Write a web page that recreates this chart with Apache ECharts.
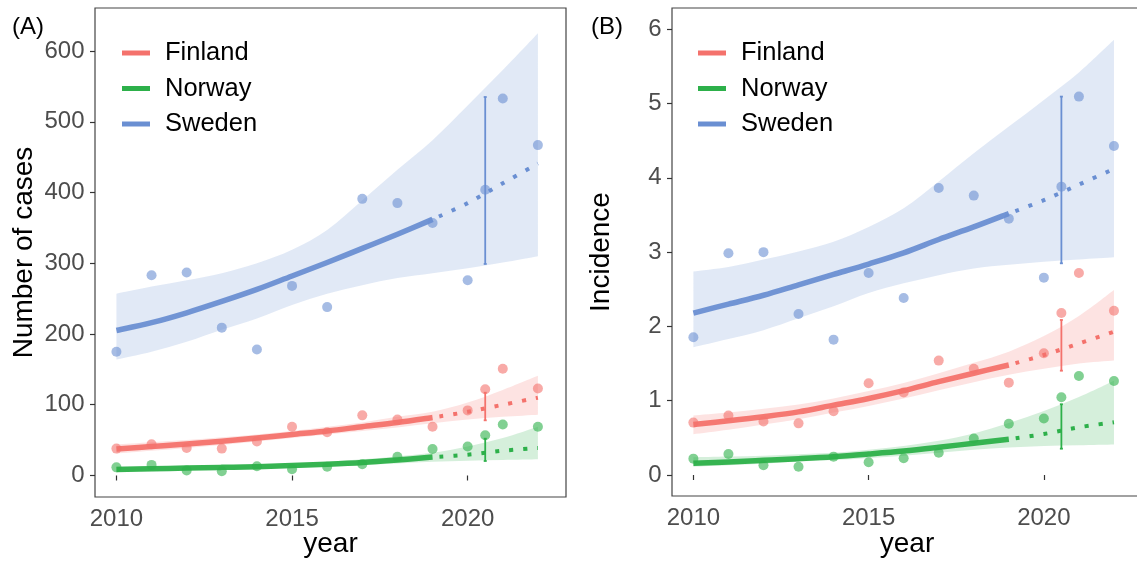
<!DOCTYPE html>
<html>
<head>
<meta charset="utf-8">
<script src="https://cdn.jsdelivr.net/npm/echarts@6/dist/echarts.min.js"></script>
<style>
html,body{margin:0;padding:0;background:#fff;overflow:hidden;}
#chart{width:1150px;height:562px;}
</style>
</head>
<body>
<div id="chart"></div>
<script>
// ---------- data ----------
const years = [2010,2011,2012,2013,2014,2015,2016,2017,2018,2019,2020,2021,2022];
const fitYears = [2010,2011,2012,2013,2014,2015,2016,2017,2018,2019];
const projYears = [2019,2020,2021,2022];
const midYear = 2020.5;
const countries = ['Finland','Norway','Sweden'];
const xTicks = [2010,2015,2020];
const yTicksA = [0,100,200,300,400,500,600];
const yTicksB = [0,1,2,3,4,5,6];

// Panel A: number of cases
const casesFinland = [38,44,39,38,48,69,61,85,79,69,92,151,123];
const casesNorway  = [11.5,15,7,6,13,9,12.5,16,26.6,37.5,41,72,69];
const casesSweden  = [175,283,287,209,178,268,238,391,385,357,276,533,467];
const casesMid = {Finland:122, Norway:57, Sweden:404};
const casesErr = {Finland:[78,117], Norway:[20.5,52], Sweden:[299,535]};
const casesFitFinland = [37.5,41,44.5,48.5,53,58,63,69,75,82];
const casesFitNorway  = [8.5,9.5,10.5,11.5,12.5,14,16,18.5,22,26];
const casesFitSweden  = [205,216,230,246,263,282,301,321,341,362];
const casesProjFinland = [82,90,100,110];
const casesProjNorway  = [26,29.4,35,39];
const casesProjSweden  = [362,385,413,441];
const casesLoFinland = [31,35,39,43,48,53,58,63,68,74,79,83,86];
const casesHiFinland = [44,47,50,54,58,63,69,75,83,90,103,121,141];
const casesLoNorway  = [5,6,7.5,9,10,11.5,13,15,17,19.5,21,22,23];
const casesHiNorway  = [12.5,13,13.5,14.5,15.5,17,19.5,23,27,32,41,53,69];
const casesLoSweden  = [164,175,189,206,222,241,257,269,279,286,293,301,310];
const casesHiSweden  = [257,267,276,286,300,319,347,389,432,474,523,573,625];

// Panel B: incidence
const incFinland = [0.705,0.80,0.72,0.695,0.857,1.234,1.11,1.54,1.43,1.243,1.64,2.72,2.21];
const incNorway  = [0.22,0.283,0.13,0.112,0.247,0.171,0.225,0.30,0.49,0.69,0.76,1.333,1.266];
const incSweden  = [1.854,2.985,3.0,2.168,1.822,2.72,2.383,3.864,3.761,3.451,2.657,5.094,4.43];
const incMid = {Finland:2.18, Norway:1.046, Sweden:3.882};
const incErr = {Finland:[1.404,2.087], Norway:[0.354,0.952], Sweden:[2.85,5.094]};
const incFitFinland = [0.68,0.73,0.785,0.85,0.94,1.03,1.135,1.256,1.37,1.48];
const incFitNorway  = [0.157,0.175,0.197,0.22,0.247,0.283,0.323,0.373,0.427,0.48];
const incFitSweden  = [2.18,2.30,2.42,2.56,2.70,2.84,2.99,3.17,3.34,3.52];
const incProjFinland = [1.48,1.615,1.77,1.93];
const incProjNorway  = [0.48,0.552,0.642,0.71];
const incProjSweden  = [3.52,3.70,3.91,4.12];
const incLoFinland = [0.55,0.61,0.68,0.75,0.84,0.93,1.03,1.14,1.25,1.35,1.43,1.50,1.54];
const incHiFinland = [0.80,0.84,0.89,0.95,1.03,1.13,1.24,1.37,1.51,1.66,1.87,2.14,2.49];
const incLoNorway  = [0.11,0.13,0.15,0.18,0.20,0.23,0.26,0.30,0.34,0.37,0.39,0.40,0.41];
const incHiNorway  = [0.24,0.25,0.26,0.28,0.30,0.34,0.39,0.46,0.56,0.70,0.86,1.05,1.27];
const incLoSweden  = [1.72,1.83,1.95,2.11,2.27,2.45,2.58,2.69,2.78,2.83,2.87,2.90,2.93];
const incHiSweden  = [2.74,2.80,2.90,3.01,3.14,3.34,3.59,3.95,4.33,4.69,5.05,5.42,5.86];

// ---------- styling ----------
const colors = {Finland:'#F4726C', Norway:'#2DB04A', Sweden:'#6A8FD2'};
const FONT = '"Liberation Sans", Arial, sans-serif';

const panels = [
  {
    obs:{Finland:casesFinland, Norway:casesNorway, Sweden:casesSweden},
    mid:casesMid, err:casesErr,
    fit:{Finland:casesFitFinland, Norway:casesFitNorway, Sweden:casesFitSweden},
    proj:{Finland:casesProjFinland, Norway:casesProjNorway, Sweden:casesProjSweden},
    lo:{Finland:casesLoFinland, Norway:casesLoNorway, Sweden:casesLoSweden},
    hi:{Finland:casesHiFinland, Norway:casesHiNorway, Sweden:casesHiSweden}
  },
  {
    obs:{Finland:incFinland, Norway:incNorway, Sweden:incSweden},
    mid:incMid, err:incErr,
    fit:{Finland:incFitFinland, Norway:incFitNorway, Sweden:incFitSweden},
    proj:{Finland:incProjFinland, Norway:incProjNorway, Sweden:incProjSweden},
    lo:{Finland:incLoFinland, Norway:incLoNorway, Sweden:incLoSweden},
    hi:{Finland:incHiFinland, Norway:incHiNorway, Sweden:incHiSweden}
  }
];

function zip(xs, ys){ return xs.map((x,i)=>[x, ys[i]]); }

// Catmull-Rom spline path through pixel points (rendering only)
function splineSegs(pts, first){
  let d = first ? ('M' + pts[0][0] + ' ' + pts[0][1]) : ('L' + pts[0][0] + ' ' + pts[0][1]);
  for (let i=0;i<pts.length-1;i++){
    const p0 = pts[Math.max(i-1,0)], p1 = pts[i], p2 = pts[i+1], p3 = pts[Math.min(i+2, pts.length-1)];
    const c1x = p1[0] + (p2[0]-p0[0])/6, c1y = p1[1] + (p2[1]-p0[1])/6;
    const c2x = p2[0] - (p3[0]-p1[0])/6, c2y = p2[1] - (p3[1]-p1[1])/6;
    d += ' C' + c1x + ' ' + c1y + ' ' + c2x + ' ' + c2y + ' ' + p2[0] + ' ' + p2[1];
  }
  return d;
}

function curveSeries(name, pi, xs, ys, style, z){
  return {
    type:'custom', name:name, xAxisIndex:pi, yAxisIndex:pi, silent:true, z:z,
    data:zip(xs, ys),
    renderItem:function(params, api){
      if (params.dataIndex !== 0) return null;
      const pts = xs.map((x,i)=>api.coord([x, ys[i]]));
      return {type:'path', shape:{pathData:splineSegs(pts, true)}, style:Object.assign({fill:null}, style)};
    }
  };
}

const series = [];
panels.forEach((p, pi) => {
  countries.forEach(c => {
    const lo = p.lo[c], hi = p.hi[c];
    series.push({
      type:'custom', name:c+'-ribbon', xAxisIndex:pi, yAxisIndex:pi, silent:true, z:1,
      data:[[2015, hi[5]]],
      renderItem:function(params, api){
        const up = years.map((y,i)=>api.coord([y, hi[i]]));
        const dn = years.map((y,i)=>api.coord([y, lo[i]])).reverse();
        const d = splineSegs(up, true) + ' ' + splineSegs(dn, false) + ' Z';
        return {type:'path', shape:{pathData:d}, style:{fill:colors[c], opacity:0.2}};
      }
    });
  });
  countries.forEach(c => {
    series.push(curveSeries(c, pi, fitYears, p.fit[c],
      {stroke:colors[c], lineWidth:5.5, lineCap:'butt', lineJoin:'round', opacity:0.95}, 3));
    series.push(curveSeries(c+'-proj', pi, projYears, p.proj[c],
      {stroke:colors[c], lineWidth:4, lineCap:'butt', lineDash:[4,10], lineDashOffset:7}, 3));
    series.push({
      type:'scatter', name:c+'-pts', xAxisIndex:pi, yAxisIndex:pi, z:4,
      data:zip(years, p.obs[c]).concat([[midYear, p.mid[c]]]),
      symbolSize:10, itemStyle:{color:colors[c], opacity:0.6}
    });
    const eb = p.err[c];
    series.push({
      type:'custom', name:c+'-err', xAxisIndex:pi, yAxisIndex:pi, silent:true, z:5,
      data:[[midYear, eb[0], eb[1]]],
      renderItem:function(params, api){
        const a = api.coord([api.value(0), api.value(1)]);
        const b = api.coord([api.value(0), api.value(2)]);
        const st = {stroke:colors[c], lineWidth:1.8};
        return {type:'group', children:[
          {type:'line', shape:{x1:a[0], y1:a[1], x2:b[0], y2:b[1]}, style:st},
          {type:'line', shape:{x1:a[0]-1.5, y1:a[1], x2:a[0]+1.5, y2:a[1]}, style:st},
          {type:'line', shape:{x1:b[0]-1.5, y1:b[1], x2:b[0]+1.5, y2:b[1]}, style:st}
        ]};
      }
    });
  });
});

function xAxisDef(gi){
  return {
    type:'value', gridIndex:gi, min:2009.39, max:2022.8,
    splitLine:{show:false},
    axisLine:{show:false},
    axisTick:{show:true, length:5, inside:false, customValues:xTicks, lineStyle:{color:'#333', width:1.2}},
    axisLabel:{show:true, customValues:xTicks, margin:10, color:'#4D4D4D', fontSize:24, fontFamily:FONT,
      formatter:v=>String(v)}
  };
}
function yAxisDef(gi, min, max, ticks){
  return {
    type:'value', gridIndex:gi, min:min, max:max,
    splitLine:{show:false},
    axisLine:{show:false},
    axisTick:{show:true, length:5, inside:false, customValues:ticks, lineStyle:{color:'#333', width:1.2}},
    axisLabel:{show:true, customValues:ticks, margin:10.5, color:'#4D4D4D', fontSize:24, fontFamily:FONT,
      formatter:v=>String(v)}
  };
}

function legendDef(left){
  return {
    show:true, orient:'vertical', left:left, top:38, padding:0,
    icon:'rect', itemWidth:28, itemHeight:5, itemGap:5.5,
    selectedMode:false,
    textStyle:{fontSize:25.5, fontFamily:FONT, color:'#000', lineHeight:30, padding:[0,0,0,10]},
    data:countries.map(c=>({name:c, icon:'rect', itemStyle:{color:colors[c], opacity:1, borderWidth:0}}))
  };
}

const option = {
  backgroundColor:'#fff',
  animation:false,
  grid:[
    {left:95, top:8, width:471, height:489, show:true, borderColor:'#444', borderWidth:1.2, backgroundColor:'transparent'},
    {left:672, top:8, width:470, height:488, show:true, borderColor:'#444', borderWidth:1.2, backgroundColor:'transparent'}
  ],
  xAxis:[xAxisDef(0), xAxisDef(1)],
  yAxis:[yAxisDef(0, -30.4, 660.8, yTicksA), yAxisDef(1, -0.283, 6.287, yTicksB)],
  legend:[legendDef(122), legendDef(698)],
  graphic:[
    {type:'text', left:12, top:15, style:{text:'(A)', font:'24px '+FONT, fill:'#000'}},
    {type:'text', left:591, top:15, style:{text:'(B)', font:'24px '+FONT, fill:'#000'}},
    {type:'text', x:24, y:252.5, rotation:Math.PI/2,
      style:{text:'Number of cases', font:'28px '+FONT, fill:'#000', textAlign:'center', textVerticalAlign:'middle'}},
    {type:'text', x:601, y:252, rotation:Math.PI/2,
      style:{text:'Incidence', font:'28px '+FONT, fill:'#000', textAlign:'center', textVerticalAlign:'middle'}},
    {type:'text', x:330.5, y:544, style:{text:'year', font:'28px '+FONT, fill:'#000', textAlign:'center', textVerticalAlign:'middle'}},
    {type:'text', x:907, y:544, style:{text:'year', font:'28px '+FONT, fill:'#000', textAlign:'center', textVerticalAlign:'middle'}}
  ],
  series:series
};

const chart = echarts.init(document.getElementById('chart'), null, {renderer:'canvas'});
chart.setOption(option);
</script>
</body>
</html>
